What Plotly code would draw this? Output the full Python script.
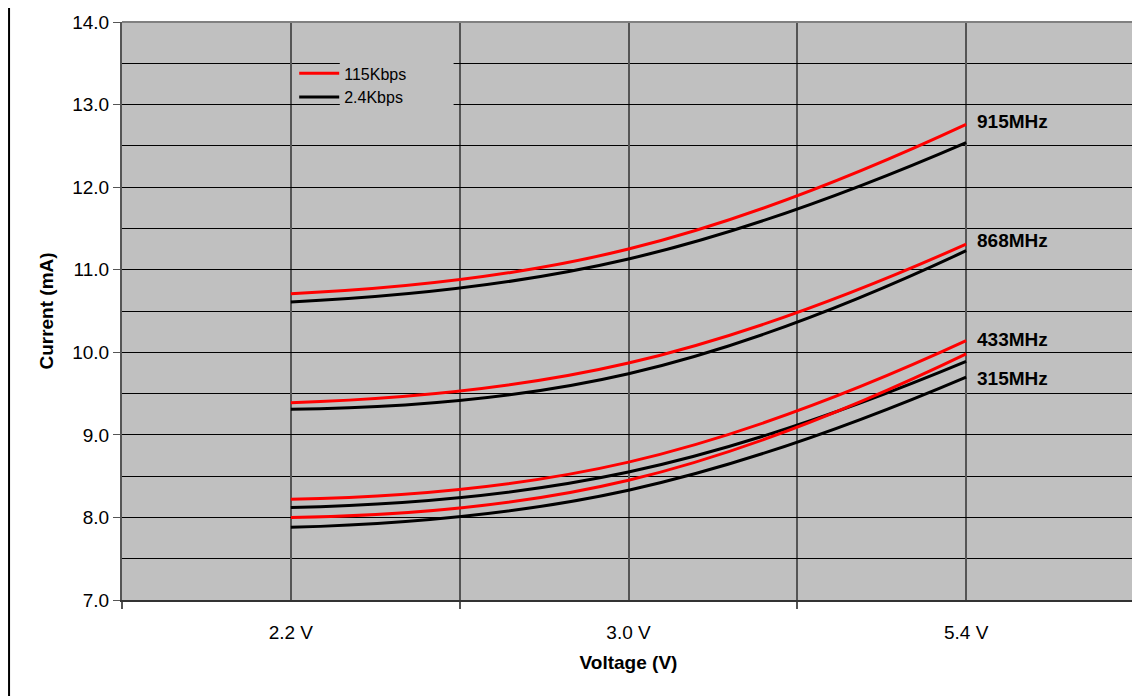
import plotly.graph_objects as go

# ---- data ----
voltages = ["2.2 V", "3.0 V", "5.4 V"]
freq_labels = ["915MHz", "868MHz", "433MHz", "315MHz"]
rate_labels = ["115Kbps", "2.4Kbps"]

i_915_115k = [10.71, 11.25, 12.76]
i_915_2k4 = [10.61, 11.13, 12.54]
i_868_115k = [9.39, 9.87, 11.31]
i_868_2k4 = [9.31, 9.74, 11.23]
i_433_115k = [8.22, 8.67, 10.14]
i_433_2k4 = [8.12, 8.55, 9.89]
i_315_115k = [8.00, 8.45, 9.98]
i_315_2k4 = [7.88, 8.33, 9.70]

freq_label_y = [12.80, 11.35, 10.15, 9.68]

y_ticks = [7.0, 8.0, 9.0, 10.0, 11.0, 12.0, 13.0, 14.0]

# ---- figure ----
FONT = "Liberation Sans, Arial, sans-serif"
xpos = list(range(len(voltages)))

series_115k = [i_915_115k, i_868_115k, i_433_115k, i_315_115k]
series_2k4 = [i_915_2k4, i_868_2k4, i_433_2k4, i_315_2k4]

fig = go.Figure()

# black (2.4Kbps) drawn first so red sits on top
for k, ys in enumerate(series_2k4):
    fig.add_trace(go.Scatter(
        x=xpos, y=ys, mode="lines", name=rate_labels[1],
        line=dict(color="#000000", width=3, shape="spline", smoothing=1.3),
        showlegend=(k == 0), legendrank=2, hoverinfo="skip"))
for k, ys in enumerate(series_115k):
    fig.add_trace(go.Scatter(
        x=xpos, y=ys, mode="lines", name=rate_labels[0],
        line=dict(color="#FF0000", width=3, shape="spline", smoothing=1.3),
        showlegend=(k == 0), legendrank=1, hoverinfo="skip"))

for lab, yv in zip(freq_labels, freq_label_y):
    fig.add_annotation(x=xpos[-1], y=yv, text="<b>%s</b>" % lab, showarrow=False,
                       xanchor="left", yanchor="middle", xshift=9,
                       font=dict(family=FONT, size=19, color="#000000"))

# legend backing box (covers gridlines like the original)
fig.add_shape(type="rect", x0=0.145, x1=0.482, y0=12.965, y1=13.56,
              xref="x", yref="y", fillcolor="#C0C0C0", line=dict(width=0),
              layer="between")
# top border of plot area
fig.add_shape(type="line", xref="paper", yref="paper", x0=0, x1=1, y0=1, y1=1,
              line=dict(color="#808080", width=2))
# left border of the whole chart
fig.add_shape(type="line", xref="paper", yref="paper", x0=-0.1115, x1=-0.1115,
              y0=-0.2, y1=1.1, line=dict(color="#000000", width=2))

fig.update_layout(
    width=1140, height=696,
    margin=dict(l=114, r=13, t=14, b=104, autoexpand=False),
    paper_bgcolor="#FFFFFF", plot_bgcolor="#C0C0C0",
    font=dict(family=FONT, size=19, color="#000000"),
    showlegend=True,
    legend=dict(x=0.17, y=0.9405, xanchor="left", yanchor="top",
                bgcolor="rgba(0,0,0,0)", font=dict(family=FONT, size=16),
                tracegroupgap=0, itemwidth=40),
)

fig.update_xaxes(
    range=[-0.5, 2.5], tickmode="array", tickvals=xpos, ticktext=voltages,
    ticks="", showgrid=True, gridcolor="#555555", gridwidth=2,
    showline=True, linecolor="#333333", linewidth=2, zeroline=False,
    ticklabelstandoff=14, automargin=False,
    minor=dict(tickmode="array", tickvals=[-0.5, 0.5, 1.5, 2.5], ticks="outside",
               ticklen=7, tickcolor="#555555", tickwidth=2,
               showgrid=True, gridcolor="#555555", gridwidth=2),
    title=dict(text="<b>Voltage (V)</b>", font=dict(family=FONT, size=19), standoff=14),
    tickfont=dict(family=FONT, size=19),
)
fig.update_yaxes(
    range=[7, 14], tickmode="array", tickvals=y_ticks,
    ticktext=["%.1f" % v for v in y_ticks],
    ticks="outside", ticklen=7, tickcolor="#555555", tickwidth=1,
    showgrid=True, gridcolor="#000000", gridwidth=1,
    showline=True, linecolor="#555555", linewidth=2, zeroline=False,
    automargin=False,
    minor=dict(dtick=0.5, tick0=7, showgrid=True, gridcolor="#000000", gridwidth=1, ticks=""),
    title=dict(text="<b>Current (mA)</b>", font=dict(family=FONT, size=19), standoff=14),
    tickfont=dict(family=FONT, size=19),
)

fig.write_html("out.html")
